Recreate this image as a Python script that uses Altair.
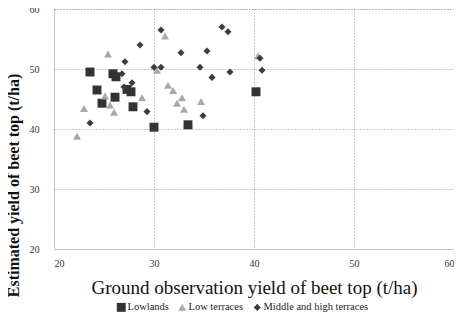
import altair as alt
import pandas as pd

lowlands_x = [23.6, 25.9, 26.2, 24.3, 26.1, 24.8, 27.9, 27.7, 27.3, 30.0, 33.4, 40.2]
lowlands_y = [49.5, 49.2, 48.7, 46.5, 45.3, 44.3, 43.7, 46.2, 46.6, 40.3, 40.7, 46.2]

low_x = [31.1, 25.4, 31.4, 31.9, 28.8, 32.8, 32.3, 34.7, 33.0, 26.0, 23.0, 22.3, 25.1, 25.6, 30.3, 40.4]
low_y = [55.5, 52.5, 47.3, 46.4, 45.2, 45.2, 44.3, 44.6, 43.3, 42.8, 43.4, 38.8, 45.5, 44.0, 49.8, 52.2]

mid_x = [30.7, 36.8, 37.4, 28.6, 32.7, 35.3, 27.1, 30.0, 30.7, 34.6, 37.6, 35.8, 26.8, 27.0, 27.8, 34.9, 29.3, 23.6, 40.6, 40.8]
mid_y = [56.5, 57.0, 56.2, 54.0, 52.7, 53.0, 51.2, 50.3, 50.3, 50.3, 49.5, 48.6, 49.2, 47.0, 47.7, 42.2, 42.9, 41.0, 51.8, 49.8]

groups = ["Lowlands", "Low terraces", "Middle and high terraces"]

rows = []
for g, xs, ys in [(groups[0], lowlands_x, lowlands_y),
                  (groups[1], low_x, low_y),
                  (groups[2], mid_x, mid_y)]:
    for a, b in zip(xs, ys):
        rows.append({"ground": a, "est": b, "group": g})
df = pd.DataFrame(rows)

serif = "Liberation Serif"

chart = alt.Chart(df).mark_point(filled=True, opacity=1).encode(
    x=alt.X("ground:Q", scale=alt.Scale(domain=[20, 60], nice=False),
            axis=alt.Axis(values=[20, 30, 40, 50, 60], title="Ground observation yield of beet top (t/ha)",
                          titleFontSize=19, titleFont=serif, titleFontWeight="normal", titleColor="#111",
                          titleY=44, titleBaseline="alphabetic",
                          labelFont=serif, labelFontSize=10, labelColor="#333", labelPadding=9,
                          domain=False, ticks=False, grid=True, gridDash=[1, 2], gridColor="#999")),
    y=alt.Y("est:Q", scale=alt.Scale(domain=[20, 60], nice=False),
            axis=alt.Axis(values=[20, 30, 40, 50, 60], title="Estimated yield of beet top (t/ha)",
                          titleFontSize=16, titleFont=serif, titleFontWeight="bold", titleColor="#111",
                          titleX=-33, titleY=176, titleAlign="center",
                          labelFont=serif, labelFontSize=10, labelColor="#333", labelPadding=15,
                          domain=False, ticks=False, grid=True, gridDash=[1, 2], gridColor="#999")),
    shape=alt.Shape("group:N", scale=alt.Scale(domain=groups, range=["square", "triangle-up", "diamond"]),
                    legend=alt.Legend(title=None)),
    color=alt.Color("group:N", scale=alt.Scale(domain=groups, range=["#333333", "#a8a8a8", "#3c3c3c"]),
                    legend=alt.Legend(title=None)),
    size=alt.Size("group:N", scale=alt.Scale(domain=groups, range=[80, 50, 85]),
                  legend=alt.Legend(title=None)),
).properties(
    width=400, height=240,
    autosize=alt.AutoSizeParams(type="none"),
    padding={"left": 46, "top": 1, "right": 0, "bottom": 66},
).configure_view(
    stroke="#999", strokeDash=[1, 2]
).configure_legend(
    orient="none", legendX=62, legendY=293, direction="horizontal",
    labelFont=serif, labelFontSize=10.5, labelColor="#222",
    symbolSize=30, columnPadding=8, labelOffset=1, symbolStrokeWidth=0,
)

chart.save("out.html", embed_options={"renderer": "svg", "actions": False})
